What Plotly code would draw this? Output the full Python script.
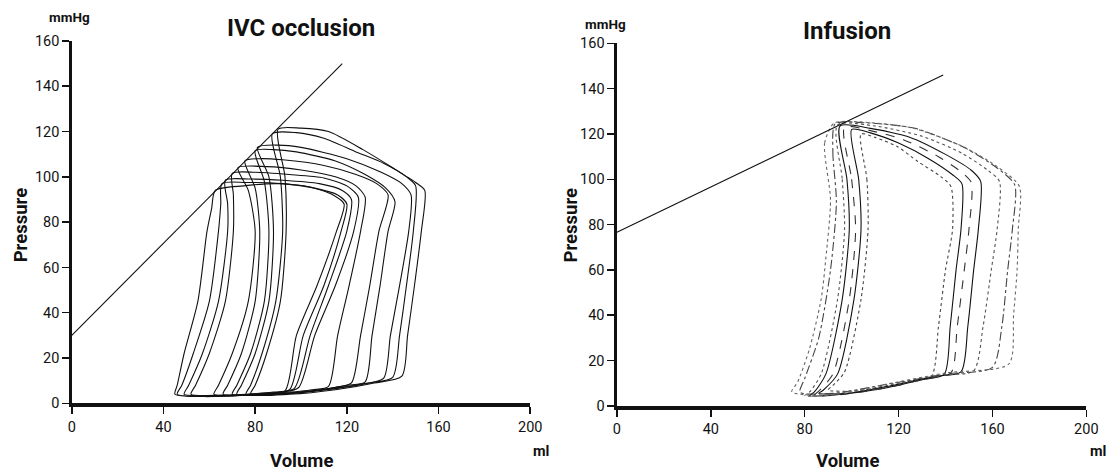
import plotly.graph_objects as go

# ---------------- data ----------------
tick_vals_x = [0, 40, 80, 120, 160, 200]
tick_vals_y = [0, 20, 40, 60, 80, 100, 120, 140, 160]

espvr_ivc_v = [0, 118]
espvr_ivc_p = [30, 150]
espvr_inf_v = [0, 139]
espvr_inf_p = [76.6, 146]

# IVC occlusion loops (volume ml, pressure mmHg), largest -> smallest
ivc_loops_v = [
    [90, 93, 93.5, 91, 85, 80, 78, 95, 115, 132, 144, 146.5, 149.5, 152.5, 154, 150, 140, 127, 112, 100, 90],
    [87.5, 91, 92, 89, 83, 78, 76, 95, 115, 130, 140, 143, 146, 149, 150, 146, 136, 124, 110, 98, 87.5],
    [81, 86, 88, 86, 80, 74, 72, 90, 110, 126, 136, 139, 143, 147, 148, 144, 135, 120, 100, 90, 81],
    [80, 84, 86, 84, 78, 72, 70, 88, 105, 120, 128, 131, 134.5, 138, 141, 137, 128, 115, 98, 88, 80],
    [75.5, 80, 82, 80, 74, 68, 66, 85, 100, 115, 122, 126, 130, 134, 138, 133, 124, 110, 92, 82, 75.5],
    [72.5, 77, 80, 77, 70, 64, 62, 75, 90, 105, 112, 116, 121, 126, 128, 124, 115, 100, 85, 72.5],
    [70, 70.5, 70.5, 67, 60, 54, 52, 65, 80, 92, 99, 106, 115, 123, 125, 120, 110, 95, 80, 70],
    [67, 68, 68, 64, 57, 51, 49, 62, 76, 88, 97, 104, 112, 120, 122, 118, 108, 92, 78, 67],
    [65.5, 65, 64, 60, 53, 48, 46, 60, 74, 86, 95, 101, 110, 117.5, 120, 116, 106, 92, 76, 65.5],
    [62.6, 61, 59, 55, 49, 46, 45, 58, 72, 84, 93, 98, 107, 115.5, 118.8, 114, 104, 90, 75, 62.6],
]
ivc_loops_p = [
    [121, 100, 76, 45, 22, 8, 4, 4, 6, 9, 12, 30, 52, 76, 94, 97.5, 104, 112, 120, 121.5, 121],
    [119, 100, 76, 45, 22, 8, 4, 4.5, 6.5, 9, 11.5, 30, 52, 76, 96, 100, 106, 111, 117, 119.5, 119],
    [113, 100, 76, 45, 22, 8, 4, 4, 6, 8.5, 11, 30, 52, 76, 92, 97, 102, 108, 113, 114, 113],
    [111.5, 98, 76, 45, 22, 8, 4, 4, 5.5, 8, 9.5, 30, 52, 76, 89, 95, 101, 107, 111, 112, 111.5],
    [107, 95, 76, 45, 22, 8, 4, 4, 5, 7, 9, 30, 52, 76, 92, 97, 101, 105, 107.5, 108, 107],
    [104, 94, 76, 45, 22, 8, 4, 3.5, 4.5, 6, 7.5, 30, 52, 76, 91, 96, 100, 103, 104.5, 104],
    [101.5, 92, 76, 45, 22, 8, 4, 3.5, 4, 5, 7, 30, 52, 76, 91, 96, 99.5, 101, 102, 101.5],
    [98.5, 88, 76, 45, 22, 8, 4, 3.5, 4, 5, 6.5, 30, 52, 76, 90, 94, 97, 98.5, 99, 98.5],
    [97, 88, 76, 45, 22, 8, 4, 3, 3.5, 4.5, 6, 30, 52, 76, 88, 92, 95, 97, 97.5, 97],
    [94, 86, 76, 45, 22, 8, 4, 3, 3.5, 4.5, 5.5, 30, 52, 76, 88, 92, 95.5, 97, 96, 94],
]

# Infusion loops, smallest -> largest
inf_loops_v = [
    [104, 106.5, 107, 104, 97, 92, 90, 100, 115, 125, 134, 137, 140, 143, 142.3, 138, 128, 119.5, 110, 104],
    [100, 103, 104, 101, 94, 88, 86, 98, 115, 130, 139.5, 142, 144.5, 146.6, 147, 143, 133, 120, 108, 100],
    [97, 100, 101.7, 99, 92, 86, 84, 96, 115, 132, 142.3, 145, 148, 150, 151, 147, 137, 122, 108, 97],
    [95, 98, 99, 96, 89, 84, 82, 95, 115, 135, 146.6, 149.5, 152, 154, 155, 151, 140, 125, 108, 95],
    [94, 96, 97, 94, 87, 82, 80, 94, 115, 138, 152, 156, 159.5, 162, 163, 158, 147, 130, 110, 94],
    [93, 92, 93.5, 91, 86, 80, 78, 92, 115, 140, 160, 164, 166.5, 168.5, 169.5, 162, 148, 127, 105, 93],
    [92.5, 88.5, 91, 89, 87, 82, 77, 74.5, 88, 112, 140, 167, 169, 170.5, 171, 171.5, 162, 147.5, 126, 102.5, 92.5],
]
inf_loops_p = [
    [120, 100, 78, 47, 15, 9, 7, 6.5, 8.5, 11, 13, 35, 60, 78, 96.8, 101.2, 108, 114.4, 118.5, 120],
    [122, 100, 78, 47, 14, 7, 5.5, 5.5, 8, 11.5, 14, 35, 60, 78, 98, 102, 109, 116, 120.5, 122],
    [123, 100, 78, 47, 14, 6.5, 4.5, 5, 8, 12, 14.5, 35, 60, 78, 98.5, 103, 110, 117.5, 121.5, 123],
    [123.5, 100, 78, 47, 14, 6, 4.5, 5, 8.5, 13, 15, 35, 60, 78, 99, 104, 111, 118.5, 122.5, 123.5],
    [124, 100, 78, 47, 14, 6, 4.5, 5, 9, 13.5, 15.5, 35, 60, 78, 99, 104, 111.5, 119, 123.5, 124],
    [124.5, 112, 90, 60, 30, 12, 6, 5.5, 9.5, 14, 17, 35, 60, 78, 97.5, 105, 114, 122.5, 125, 124.5],
    [124.8, 116, 91, 65, 47, 25, 10.5, 6.2, 4.5, 9, 14.5, 18.5, 40, 60, 78, 96.8, 105.6, 114.4, 122.6, 125.4, 124.8],
]
inf_styles = [
    ("#444444", "dot"), ("#111111", "solid"), ("#333333", "dash"),
    ("#111111", "solid"), ("#555555", "dot"), ("#444444", "dashdot"), ("#666666", "dot"),
]

# ---------------- figure ----------------
W, H = 1115, 475
BODY = 8
# measured mapping page px -> photographed px
SX, OX, SY, OY = 0.989, 2.1, 0.967, 8.3

fig = go.Figure()

for v, p in zip(ivc_loops_v, ivc_loops_p):
    fig.add_trace(go.Scatter(x=v, y=p, mode="lines", xaxis="x", yaxis="y",
                             line=dict(color="#111111", width=1.1, shape="spline", smoothing=0.7),
                             hoverinfo="skip", showlegend=False))
fig.add_trace(go.Scatter(x=espvr_ivc_v, y=espvr_ivc_p, mode="lines", xaxis="x", yaxis="y",
                         line=dict(color="#111111", width=1.1), hoverinfo="skip", showlegend=False))

for (v, p), (c, d) in zip(zip(inf_loops_v, inf_loops_p), inf_styles):
    fig.add_trace(go.Scatter(x=v, y=p, mode="lines", xaxis="x2", yaxis="y2",
                             line=dict(color=c, width=1.1, dash=d, shape="spline", smoothing=0.7),
                             hoverinfo="skip", showlegend=False))
fig.add_trace(go.Scatter(x=espvr_inf_v, y=espvr_inf_p, mode="lines", xaxis="x2", yaxis="y2",
                         line=dict(color="#111111", width=1.1), hoverinfo="skip", showlegend=False))

FONT = "Roboto, Liberation Sans, sans-serif"
tick_font = dict(family=FONT, size=14.5, color="#111111")


def xax(domain, anchor):
    return dict(domain=domain, anchor=anchor, range=[0, 200], tickmode="array",
                tickvals=tick_vals_x, ticktext=[str(t) for t in tick_vals_x],
                showline=True, linewidth=4, linecolor="#111111", ticks="outside",
                ticklen=7, tickwidth=1.5, tickcolor="#111111", showgrid=False,
                zeroline=False, tickfont=tick_font, fixedrange=True)


def yax(domain, anchor):
    return dict(domain=domain, anchor=anchor, range=[0, 160], tickmode="array",
                tickvals=tick_vals_y, ticktext=[str(t) for t in tick_vals_y],
                showline=True, linewidth=2.5, linecolor="#111111", ticks="outside",
                ticklen=7, tickwidth=1.5, tickcolor="#111111", showgrid=False,
                zeroline=False, tickfont=tick_font, fixedrange=True)


def px(S):
    return ((S - OX) / SX - BODY) / W


def py(S):
    return 1 - ((S - OY) / SY - BODY) / H


annotations = []


def label(text, X, Y, size, angle=0):
    annotations.append(dict(text="<b>%s</b>" % text, x=px(X), y=py(Y),
                            xref="paper", yref="paper", showarrow=False, textangle=angle,
                            xanchor="center", yanchor="middle",
                            font=dict(family=FONT, size=size, color="#111111")))


label("IVC occlusion", 300, 28, 24)
label("Infusion", 848, 31, 24)
label("Pressure", 19, 226, 18.5, -90)
label("Pressure", 571, 226, 18.5, -90)
label("Volume", 300, 462, 18.5)
label("Volume", 848, 462, 18.5)
label("mmHg", 68, 17, 13.5)
label("mmHg", 606, 24, 13.5)
label("ml", 541, 453, 14.5)
label("ml", 1100, 453, 14.5)

fig.update_layout(
    width=W, height=H, autosize=False,
    margin=dict(l=0, r=0, t=0, b=0),
    paper_bgcolor="white", plot_bgcolor="white",
    xaxis=xax([px(70), px(530)], "y"),
    yaxis=yax([py(404.5), py(41)], "x"),
    xaxis2=xax([px(617), px(1088)], "y2"),
    yaxis2=yax([py(407), py(43.5)], "x2"),
    annotations=annotations,
    showlegend=False,
)

fig.write_html("out.html", config={"displayModeBar": False, "staticPlot": True})
